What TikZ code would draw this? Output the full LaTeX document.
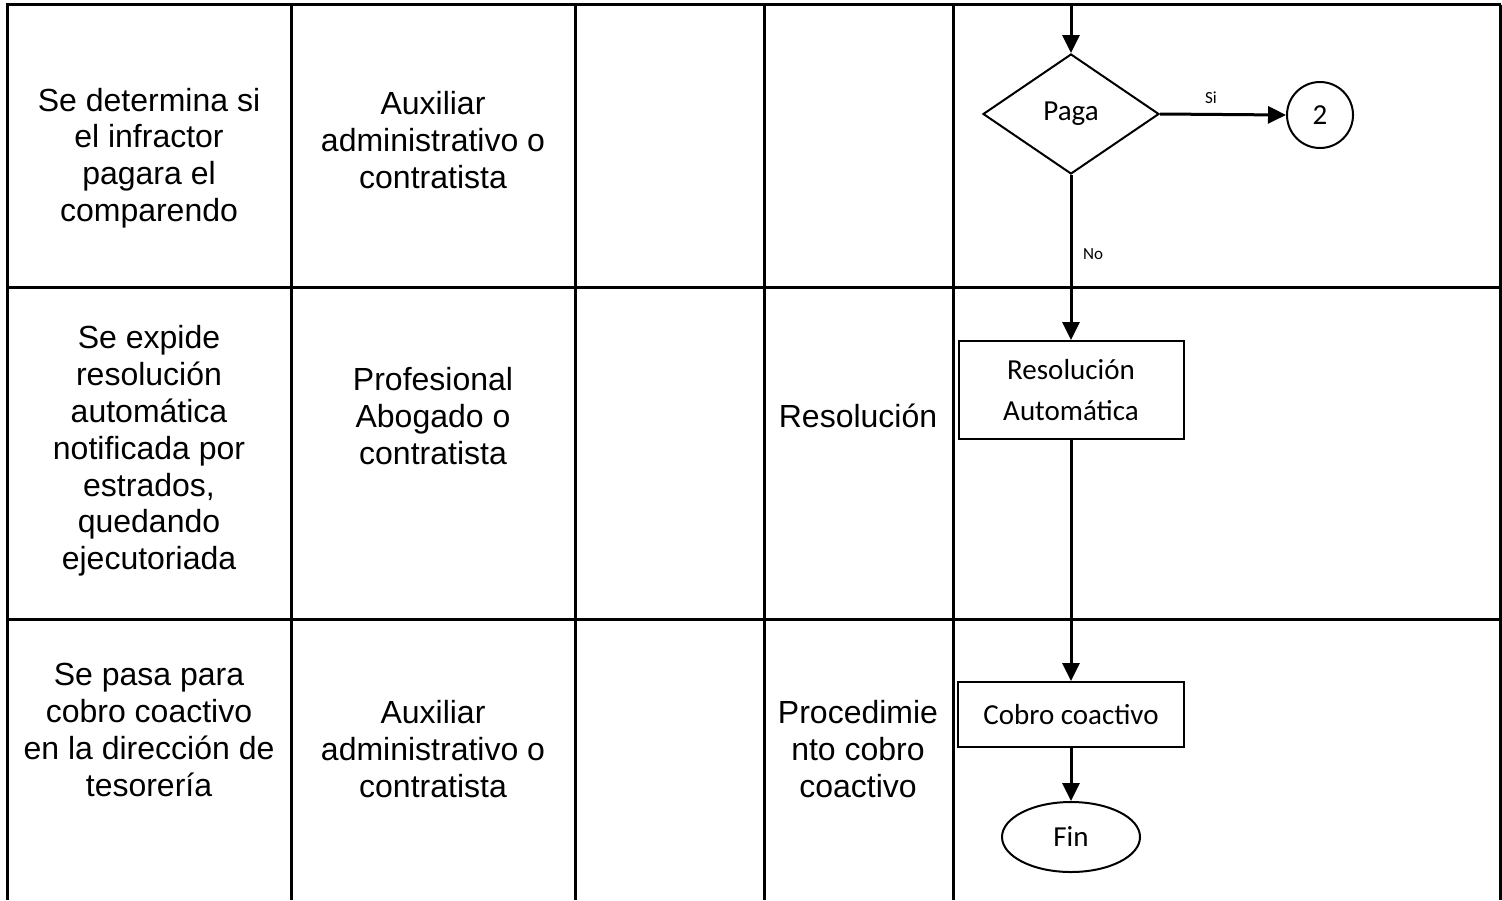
\documentclass[tikz,border=0pt]{standalone}
\usepackage{fontspec}
\setmainfont{Liberation Sans}
\newfontfamily\calibri{Carlito}
\usetikzlibrary{shapes.geometric,arrows.meta}
\begin{document}
\begin{tikzpicture}[x=0.5pt,y=-0.5pt,
  tline/.style={line width=1.5pt},
  cell/.style={align=center,font=\fontsize{16}{18.4}\selectfont,inner sep=0pt},
  proc/.style={draw,line width=1pt,rectangle,font=\calibri\fontsize{14.5}{20.5}\selectfont,align=center,inner sep=0pt},
  arr/.style={line width=1.5pt,-{Triangle[length=9pt,width=8.5pt]}},
  lbl/.style={font=\calibri\fontsize{8.5}{10}\selectfont,inner sep=0pt}]
\useasboundingbox (0,0) rectangle (1502,900);
% table grid
\foreach \xx in {7,291,575,764,953,1500}
  \draw[tline] (\xx,4.5) -- (\xx,900);
\foreach \yy in {4.5,287,619}
  \draw[tline] (6.25,\yy) -- (1500.75,\yy);
% cell texts
\node[cell] (t11) at (149,158) {Se determina si\\el infractor\\pagara el\\comparendo};
\node[cell] (t12) at (433,140) {Auxiliar\\administrativo o\\contratista};
\node[cell] (t21) at (149,451) {Se expide\\resolución\\automática\\notificada por\\estrados,\\quedando\\ejecutoriada};
\node[cell] (t22) at (433,416) {Profesional\\Abogado o\\contratista};
\node[cell] (t24) at (858,416) {Resolución};
\node[cell] (t31) at (149,730) {Se pasa para\\cobro coactivo\\en la dirección de\\tesorería};
\node[cell] (t32) at (433,749) {Auxiliar\\administrativo o\\contratista};
\node[cell] (t34) at (858,749) {Procedimie\\nto cobro\\coactivo};
% flow
\coordinate (top) at (1071,4.5);
\node[diamond,draw,line width=1pt,minimum width=88pt,minimum height=60pt,inner sep=0pt,font=\calibri\fontsize{14.5}{17}\selectfont] (dia) at (1071,114) {Paga};
\node[circle,draw,line width=1pt,minimum size=33pt,inner sep=0pt,font=\calibri\fontsize{14.5}{17}\selectfont] (c2) at (1320,115) {2};
\node[proc,minimum width=112.5pt,minimum height=49pt] (res) at (1071,390) {Resolución\\Automática};
\node[proc,minimum width=113pt,minimum height=32.5pt] (cob) at (1071,714.5) {Cobro coactivo};
\node[ellipse,draw,line width=1pt,minimum width=69pt,minimum height=35pt,inner sep=0pt,font=\calibri\fontsize{14.5}{17}\selectfont] (fin) at (1071,837) {Fin};
\draw[arr] (top) -- (dia.north);
\draw[arr] (dia.east) -- (c2.west);
\draw[arr] (dia.south) -- (res.north);
\draw[arr] (res.south) -- (cob.north);
\draw[arr] (cob.south) -- (fin.north);
\node[lbl] (si) at (1211,98) {Si};
\node[lbl] (no) at (1093,254) {No};
\end{tikzpicture}
\end{document}
